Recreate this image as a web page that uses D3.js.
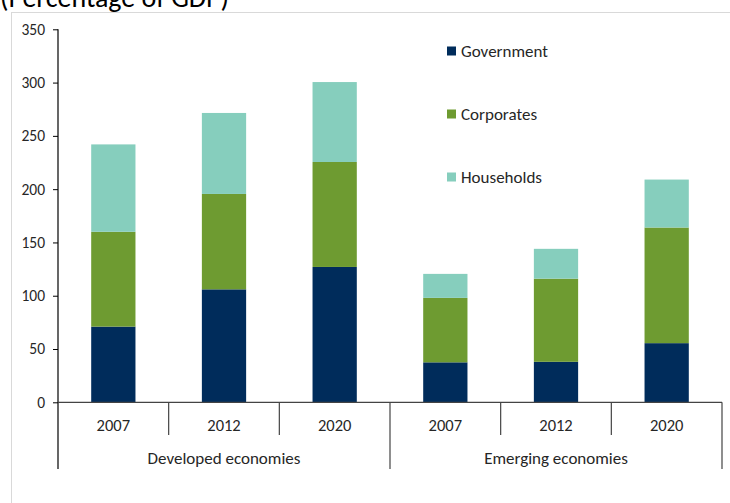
<!DOCTYPE html>
<html><head><meta charset="utf-8">
<script src="https://cdn.jsdelivr.net/npm/d3@7"></script>
<style>body{margin:0;background:#fff;} svg{display:block;font-family:Carlito,Lato,"Open Sans",sans-serif;}</style>
</head><body>
<svg id="c" width="730" height="503"></svg>
<script>
const groups = ["Developed economies", "Emerging economies"];
const years = ["2007", "2012", "2020"];
const series = ["Government", "Corporates", "Households"];
const government = [71, 106, 127, 37.5, 38, 55.5];
const corporates = [89, 89.5, 98.5, 60.5, 78, 108.5];
const households = [82, 76, 75, 22.5, 28, 45];
const colors = ["#002C5B", "#6E9B31", "#86CEBD"];
const yTicks = [0, 50, 100, 150, 200, 250, 300, 350];
const title = "(Percentage of GDP)";

const svg = d3.select("#c");
const left = 58, right = 722, y0 = 402.3, y1 = 29.3;
const txt = "#262626";

svg.append("text").attr("x", 0).attr("y", 7).attr("font-size", 28).attr("fill", "#000").text(title);
svg.append("rect").attr("x", 11.5).attr("y", 12.5).attr("width", 740).attr("height", 520)
  .attr("fill", "none").attr("stroke", "#d9d9d9");

const cats = [];
groups.forEach((g, gi) => years.forEach((yr, yi) => cats.push({key: gi + "-" + yr, group: g, year: yr, i: cats.length})));

const x = d3.scaleBand().domain(cats.map(d => d.key)).range([left, right]).paddingInner(0.6).paddingOuter(0.3);
const y = d3.scaleLinear().domain([0, 350]).range([y0, y1]);

const data = cats.map((c, i) => ({key: c.key, Government: government[i], Corporates: corporates[i], Households: households[i]}));
const stacked = d3.stack().keys(series)(data);

svg.append("g").selectAll("g").data(stacked).join("g").attr("fill", (d, i) => colors[i])
  .selectAll("rect").data(d => d).join("rect")
  .attr("x", d => x(d.data.key)).attr("width", x.bandwidth())
  .attr("y", d => y(d[1])).attr("height", d => y(d[0]) - y(d[1]));

// Y axis
const yAxis = svg.append("g").attr("transform", `translate(${left},0)`)
  .call(d3.axisLeft(y).tickValues(yTicks).tickSize(5).tickPadding(8).tickSizeOuter(0));
yAxis.select(".domain").remove();
yAxis.selectAll("line").attr("stroke", "#000");
yAxis.selectAll("text").attr("font-size", 15.5).attr("fill", txt).style("font-family", "Carlito,Lato,sans-serif");
svg.append("line").attr("x1", left).attr("x2", left).attr("y1", y1).attr("y2", 469).attr("stroke", "#000").attr("stroke-width", 1.2);

// X axis baseline
svg.append("line").attr("x1", left).attr("x2", right).attr("y1", y(0)).attr("y2", y(0)).attr("stroke", "#444").attr("stroke-width", 1.2);

const step = x.step();
for (let i = 1; i < cats.length; i++) {
  const xx = left + i * step;
  const isGroup = i % years.length === 0;
  svg.append("line").attr("x1", xx).attr("x2", xx).attr("y1", y(0)).attr("y2", isGroup ? 469 : 435)
    .attr("stroke", "#444").attr("stroke-width", 1.2);
}
svg.append("line").attr("x1", right).attr("x2", right).attr("y1", y(0)).attr("y2", 469).attr("stroke", "#444").attr("stroke-width", 1.2);

// year labels
svg.append("g").selectAll("text").data(cats).join("text")
  .attr("x", d => x(d.key) + x.bandwidth() / 2).attr("y", 431)
  .attr("text-anchor", "middle").attr("font-size", 16.5).attr("fill", txt).text(d => d.year);

// group labels
svg.append("g").selectAll("text").data(groups).join("text")
  .attr("x", (d, i) => left + (i * 3 + 1.5) * step).attr("y", 464)
  .attr("text-anchor", "middle").attr("font-size", 17).attr("fill", txt).text(d => d);

// legend
const leg = svg.append("g").selectAll("g").data(series).join("g")
  .attr("transform", (d, i) => `translate(447,${51 + i * 63})`);
leg.append("rect").attr("x", 0).attr("y", -4.5).attr("width", 9).attr("height", 9).attr("fill", (d, i) => colors[i]);
leg.append("text").attr("x", 14).attr("y", 6).attr("font-size", 17).attr("fill", txt).text(d => d);
</script>
</body></html>
